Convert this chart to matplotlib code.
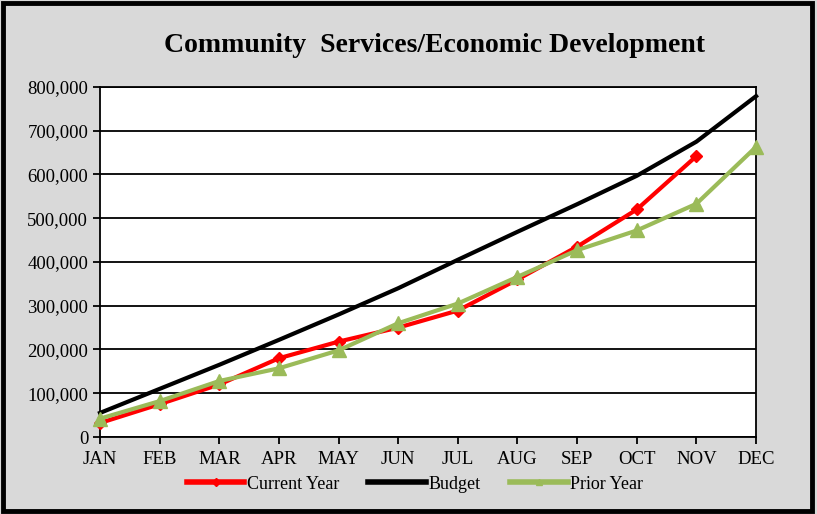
import matplotlib.pyplot as plt
from matplotlib.patches import Rectangle
from matplotlib.ticker import FuncFormatter

months = ["JAN", "FEB", "MAR", "APR", "MAY", "JUN", "JUL", "AUG", "SEP", "OCT", "NOV", "DEC"]
current_year = [32000, 75000, 120000, 180000, 218000, 250000, 289000, 360000, 435000, 520000, 642000]
budget = [55000, 110000, 165000, 222000, 280000, 340000, 405000, 469000, 532000, 597000, 675000, 779000]
prior_year = [42000, 82000, 128000, 157000, 198000, 260000, 305000, 366000, 427000, 472000, 533000, 663000]

plt.rcParams['font.family'] = ['Liberation Serif', 'DejaVu Serif']

fig = plt.figure(figsize=(8.17, 5.14), dpi=100, facecolor='#D9D9D9')
fig.patches.append(Rectangle((0.004, 0.006), 0.99, 0.988, transform=fig.transFigure,
                             fill=False, edgecolor='black', linewidth=3.5))

ax = fig.add_axes([0.1224, 0.1498, 0.803, 0.681])
ax.set_facecolor('white')

x = list(range(len(months)))
ax.plot(x[:len(current_year)], current_year, color='#FF0000', lw=3, marker='D', ms=6,
        label='Current Year', zorder=4, clip_on=False)
ax.plot(x, budget, color='black', lw=3, label='Budget', zorder=3, clip_on=False)
ax.plot(x, prior_year, color='#9BBB59', lw=3, marker='^', ms=10, label='Prior Year',
        zorder=5, clip_on=False)

ax.set_xlim(0, 11)
ax.set_ylim(0, 800000)
ax.set_yticks(range(0, 800001, 100000))
ax.yaxis.set_major_formatter(FuncFormatter(lambda v, p: f"{int(v):,}"))
ax.set_xticks(x)
ax.set_xticklabels(months)
ax.grid(axis='y', color='black', lw=1.3)
ax.set_axisbelow(True)
for s in ax.spines.values():
    s.set_linewidth(1.3)
ax.tick_params(axis='both', labelsize=13.5, length=5, width=1.3, color='black')
ax.tick_params(axis='x', pad=5)

fig.suptitle("Community  Services/Economic Development", x=0.532, y=0.935,
             fontsize=20, fontweight='bold')

leg = fig.legend(loc='center', bbox_to_anchor=(0.508, 0.058), ncol=3, frameon=False,
                 fontsize=13, handlelength=3.2, handletextpad=0.15, columnspacing=1.6)
for h in leg.legend_handles:
    h.set_markersize(4)
    h.set_linewidth(4)

fig.savefig('out.png', dpi=100, facecolor=fig.get_facecolor())
